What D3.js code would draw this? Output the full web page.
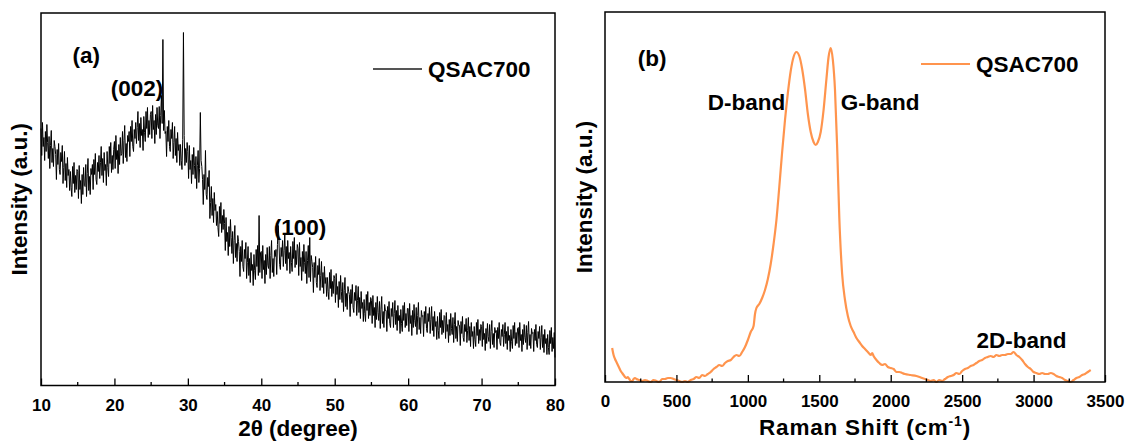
<!DOCTYPE html>
<html>
<head>
<meta charset="utf-8">
<script src="https://cdn.jsdelivr.net/npm/d3@7"></script>
<style>
  html, body { margin: 0; padding: 0; background: #fff; }
  svg { display: block; }
  text { font-family: Arial, "Liberation Sans", sans-serif; font-weight: bold; fill: #000; }
</style>
</head>
<body>
<svg id="chart" width="1126" height="441"></svg>
<script>
// ---------------- DATA ----------------
// (a) XRD pattern: 2θ from 10 to 80 in 0.1° steps, intensity (a.u.)
const xrdSeriesName = "QSAC700";
const xrdIntensity = [
  257,230,263,239,248,225,254,234,261,243, 227,249,217,240,255,223,237,219,245,239,
  231,206,236,221,242,216,211,233,224,240, 202,218,234,205,222,198,228,210,216,195,
  214,198,189,219,202,223,193,210,196,216, 214,187,220,196,205,182,211,191,218,200,
  199,221,189,212,227,195,209,191,217,211, 221,196,226,211,232,206,201,223,214,230,
  207,223,239,210,227,203,233,215,221,200, 234,218,209,239,222,243,213,230,216,236,
  244,217,250,226,235,212,241,221,248,230, 232,254,222,245,260,228,242,224,250,244,
  254,229,259,244,265,239,234,256,247,263, 242,258,274,245,262,238,268,250,256,235,
  269,253,244,274,257,278,248,265,251,271, 274,247,280,256,265,242,271,251,278,260,
  257,279,247,270,290,262,346,255,275,252, 254,229,259,244,265,239,234,256,247,263,
  227,243,259,230,247,223,253,235,241,220, 241,225,216,246,353,250,220,237,223,243,
  234,207,240,216,225,202,231,211,238,220, 207,229,197,220,235,203,217,273,225,219,
  206,181,211,196,235,191,186,208,199,215, 167,183,199,170,187,163,193,175,181,160,
  174,158,149,179,162,183,153,170,156,176, 162,135,168,144,153,130,159,139,166,148,
  132,154,122,145,160,128,142,124,150,144, 134,109,139,124,145,119,114,136,127,143,
  107,123,139,110,127,103,133,115,121,100, 131,115,106,136,119,140,110,170,113,133,
  134,107,140,116,125,102,131,111,138,120, 117,139,107,130,145,113,127,109,135,129,
  136,111,141,160,147,121,116,138,129,145, 119,135,151,122,139,115,145,127,133,112,
  139,123,114,144,127,148,118,135,121,141, 137,110,143,119,128,105,134,114,141,123,
  112,134,102,125,140,108,148,104,130,124, 118,93,123,108,129,103,98,120,111,127,
  95,110,124,98,113,92,119,102,108,89, 108,94,86,113,97,116,89,104,92,110,
  107,83,112,91,99,78,104,86,110,94, 83,103,74,95,108,79,92,76,99,94,
  91,69,96,82,101,78,73,93,85,100, 70,85,99,73,88,67,94,77,83,64,
  86,72,64,91,75,94,67,83,70,88, 85,62,90,70,78,58,83,66,89,73,
  65,84,57,76,89,62,74,58,81,75, 75,54,79,67,84,62,58,77,69,83,
  58,72,85,61,75,55,80,65,70,52, 76,62,54,80,65,83,58,72,60,77,
  77,54,82,62,70,50,75,58,81,65, 59,78,51,70,83,56,68,52,75,69,
  70,49,74,62,79,57,53,72,64,78, 52,66,79,55,69,49,74,59,64,46,
  69,55,47,73,58,76,51,65,53,70, 69,47,73,54,61,43,66,50,72,57,
  51,68,43,61,73,47,59,44,65,60, 60,40,64,52,69,48,44,61,54,67,
  43,55,68,45,59,39,63,49,54,37, 59,46,39,63,50,66,42,56,45,61,
  59,39,64,46,52,35,57,42,62,49, 44,61,37,54,65,41,52,38,58,53,
  55,36,58,47,63,43,40,56,49,61, 39,51,63,42,54,36,59,45,50,34,
  56,44,37,60,47,63,40,53,42,57, 58,38,63,45,51,34,56,41,61,48,
  43,60,36,53,64,40,51,37,57,52, 53,34,56,45,61,41,38,54,47,59,
  36,48,60,38,51,33,56,42,47,31, 51,38,31,55,42,58,34,48,37,53,
  28
];
const twoTheta = xrdIntensity.map((_, i) => +(10 + i * 0.1).toFixed(1));
const xrdTicks = [10, 20, 30, 40, 50, 60, 70, 80];
const xrdLabels = [
  { text: "(a)", x: 14.3, y: 323 },
  { text: "(002)", x: 19.5, y: 290 },
  { text: "(100)", x: 41.7, y: 151 }
];

// (b) Raman spectrum
const ramanSeriesName = "QSAC700";
const ramanShift = [
  50,60,70,80,90,100,110,120,130,140,150,160,170,180,190,200,210,220,240,260,280,300,320,340,360,380,
  400,420,440,460,480,500,520,540,560,580,600,620,640,660,680,700,720,740,760,780,800,820,840,860,880,
  900,920,940,960,980,1000,1020,1040,1050,1060,1080,1100,1120,1140,1160,1180,1200,1220,1240,1260,1280,
  1300,1320,1340,1360,1380,1400,1420,1440,1460,1475,1490,1510,1530,1550,1565,1580,1595,1610,1625,1640,
  1660,1680,1700,1720,1740,1760,1780,1800,1820,1840,1860,1870,1880,1900,1920,1940,1960,1980,2000,2020,
  2040,2060,2080,2100,2140,2180,2220,2260,2280,2300,2320,2340,2360,2380,2400,2420,2440,2460,2480,2500,
  2520,2540,2560,2580,2600,2620,2640,2660,2680,2700,2720,2740,2760,2780,2800,2820,2840,2860,2880,2900,
  2920,2940,2960,2980,3000,3020,3040,3060,3080,3100,3120,3140,3160,3180,3200,3220,3240,3260,3280,3300,
  3320,3340,3360,3380,3400
];
const ramanIntensity = [
  34,27,23,20,17,14,11,9,7,5,4,5,3,1,1,3,4,3,2,1,2,1,0,2,1,0,
  3,3,4,4,3,2,1,0,1,0,2,3,5,4,7,6,8,10,13,15,17,16,19,21,22,
  25,27,26,30,35,42,50,56,68,74,78,84,92,103,118,138,162,195,230,262,289,
  311,325,330,326,313,293,268,250,240,237,240,250,272,303,325,334,322,292,235,165,
  108,82,66,56,50,44,40,36,33,30,27,29,26,22,19,17,18,15,14,13,
  10,10,9,8,7,6,4,2,1,2,0,2,1,3,5,6,7,9,8,11,
  13,14,16,17,19,21,22,24,25,26,25,27,26,27,27,28,28,30,27,25,
  22,18,15,13,10,9,8,9,8,8,9,8,6,5,4,2,1,0,2,4,
  5,7,8,10,12
];
const ramanTicks = [0, 500, 1000, 1500, 2000, 2500, 3000, 3500];
const ramanLabels = [
  { text: "(b)", x: 230, y: 316 },
  { text: "D-band", x: 720, y: 272 },
  { text: "G-band", x: 1650, y: 272 },
  { text: "2D-band", x: 2600, y: 34 }
];

// ---------------- DRAWING ----------------
const svg = d3.select("#chart");
const FONT_TICK = 17, FONT_TITLE = 22.5, FONT_ANN = 22.5;

function panel(opts) {
  const { left, right, top, bottom, xDomain, yDomain, xs, ys, color, lineWidth,
          ticks, minorStep, xTitle, legendX, legendY, legendColor, name, labels, curve, yTitleX } = opts;
  const x = d3.scaleLinear().domain(xDomain).range([left, right]);
  const y = d3.scaleLinear().domain(yDomain).range([bottom, top]);
  const g = svg.append("g");

  const line = d3.line().x((d, i) => x(xs[i])).y(d => y(d)).curve(curve);
  g.append("path").datum(ys)
    .attr("d", line)
    .attr("fill", "none")
    .attr("stroke", color)
    .attr("stroke-width", lineWidth)
    .attr("stroke-linejoin", "round");

  const minor = d3.range(xDomain[0], xDomain[1] + 1e-9, minorStep).filter(v => !ticks.includes(v));
  g.selectAll(".minor").data(minor).enter().append("line")
    .attr("x1", d => x(d)).attr("x2", d => x(d))
    .attr("y1", bottom).attr("y2", bottom - 3.5)
    .attr("stroke", "#000").attr("stroke-width", 1.3);

  const axis = d3.axisBottom(x).tickValues(ticks).tickSizeInner(-7).tickSizeOuter(0).tickPadding(13).tickFormat(d3.format("d"));
  const ax = g.append("g").attr("transform", `translate(0,${bottom})`).call(axis);
  ax.select(".domain").remove();
  ax.selectAll(".tick line").attr("stroke", "#000").attr("stroke-width", 1.3);
  ax.selectAll(".tick text").attr("font-size", FONT_TICK)
    .attr("font-family", 'Arial, "Liberation Sans", sans-serif').attr("font-weight", "bold").attr("fill", "#000");

  g.append("rect").attr("x", left).attr("y", top).attr("width", right - left).attr("height", bottom - top)
    .attr("fill", "none").attr("stroke", "#000").attr("stroke-width", 1.5);

  xTitle(g, (left + right) / 2, bottom);
  g.append("text")
    .attr("transform", `translate(${yTitleX},${(top + bottom) / 2}) rotate(-90)`)
    .attr("text-anchor", "middle").attr("dy", "0.35em")
    .attr("font-size", FONT_TITLE).text("Intensity (a.u.)");

  g.append("line").attr("x1", legendX).attr("x2", legendX + 49).attr("y1", legendY).attr("y2", legendY)
    .attr("stroke", legendColor).attr("stroke-width", 2);
  g.append("text").attr("x", legendX + 55).attr("y", legendY).attr("dy", "0.36em")
    .attr("font-size", FONT_ANN).text(name);

  g.selectAll(".ann").data(labels).enter().append("text")
    .attr("x", d => x(d.x)).attr("y", d => y(d.y))
    .attr("text-anchor", "start")
    .attr("font-size", FONT_ANN).text(d => d.text);
}

panel({
  left: 41, right: 555, top: 13, bottom: 385.5,
  xDomain: [10, 80], yDomain: [0, 372.5],
  xs: twoTheta, ys: xrdIntensity, color: "#000", lineWidth: 1,
  ticks: xrdTicks, minorStep: 5,
  xTitle: (g, cx, b) => g.append("text").attr("x", cx).attr("y", b + 50).attr("text-anchor", "middle")
    .attr("font-size", FONT_TITLE).text("2θ (degree)"),
  legendX: 373, legendY: 69, legendColor: "#555", name: xrdSeriesName,
  labels: xrdLabels, curve: d3.curveLinear, yTitleX: 19
});

panel({
  left: 605, right: 1105, top: 12, bottom: 382,
  xDomain: [0, 3500], yDomain: [0, 370],
  xs: ramanShift, ys: ramanIntensity, color: "#FF944D", lineWidth: 2.2,
  ticks: ramanTicks, minorStep: 250,
  xTitle: (g, cx, b) => {
    const t = g.append("text").attr("x", cx + 10).attr("y", b + 53).attr("text-anchor", "middle")
      .attr("font-size", FONT_TITLE).attr("letter-spacing", 0.8);
    t.append("tspan").text("Raman Shift (cm");
    t.append("tspan").attr("font-size", 14).attr("dy", -9).text("-1");
    t.append("tspan").attr("dy", 9).text(")");
  },
  legendX: 921, legendY: 64, legendColor: "#FF944D", name: ramanSeriesName,
  labels: ramanLabels, curve: d3.curveMonotoneX, yTitleX: 584
});
</script>
</body>
</html>
